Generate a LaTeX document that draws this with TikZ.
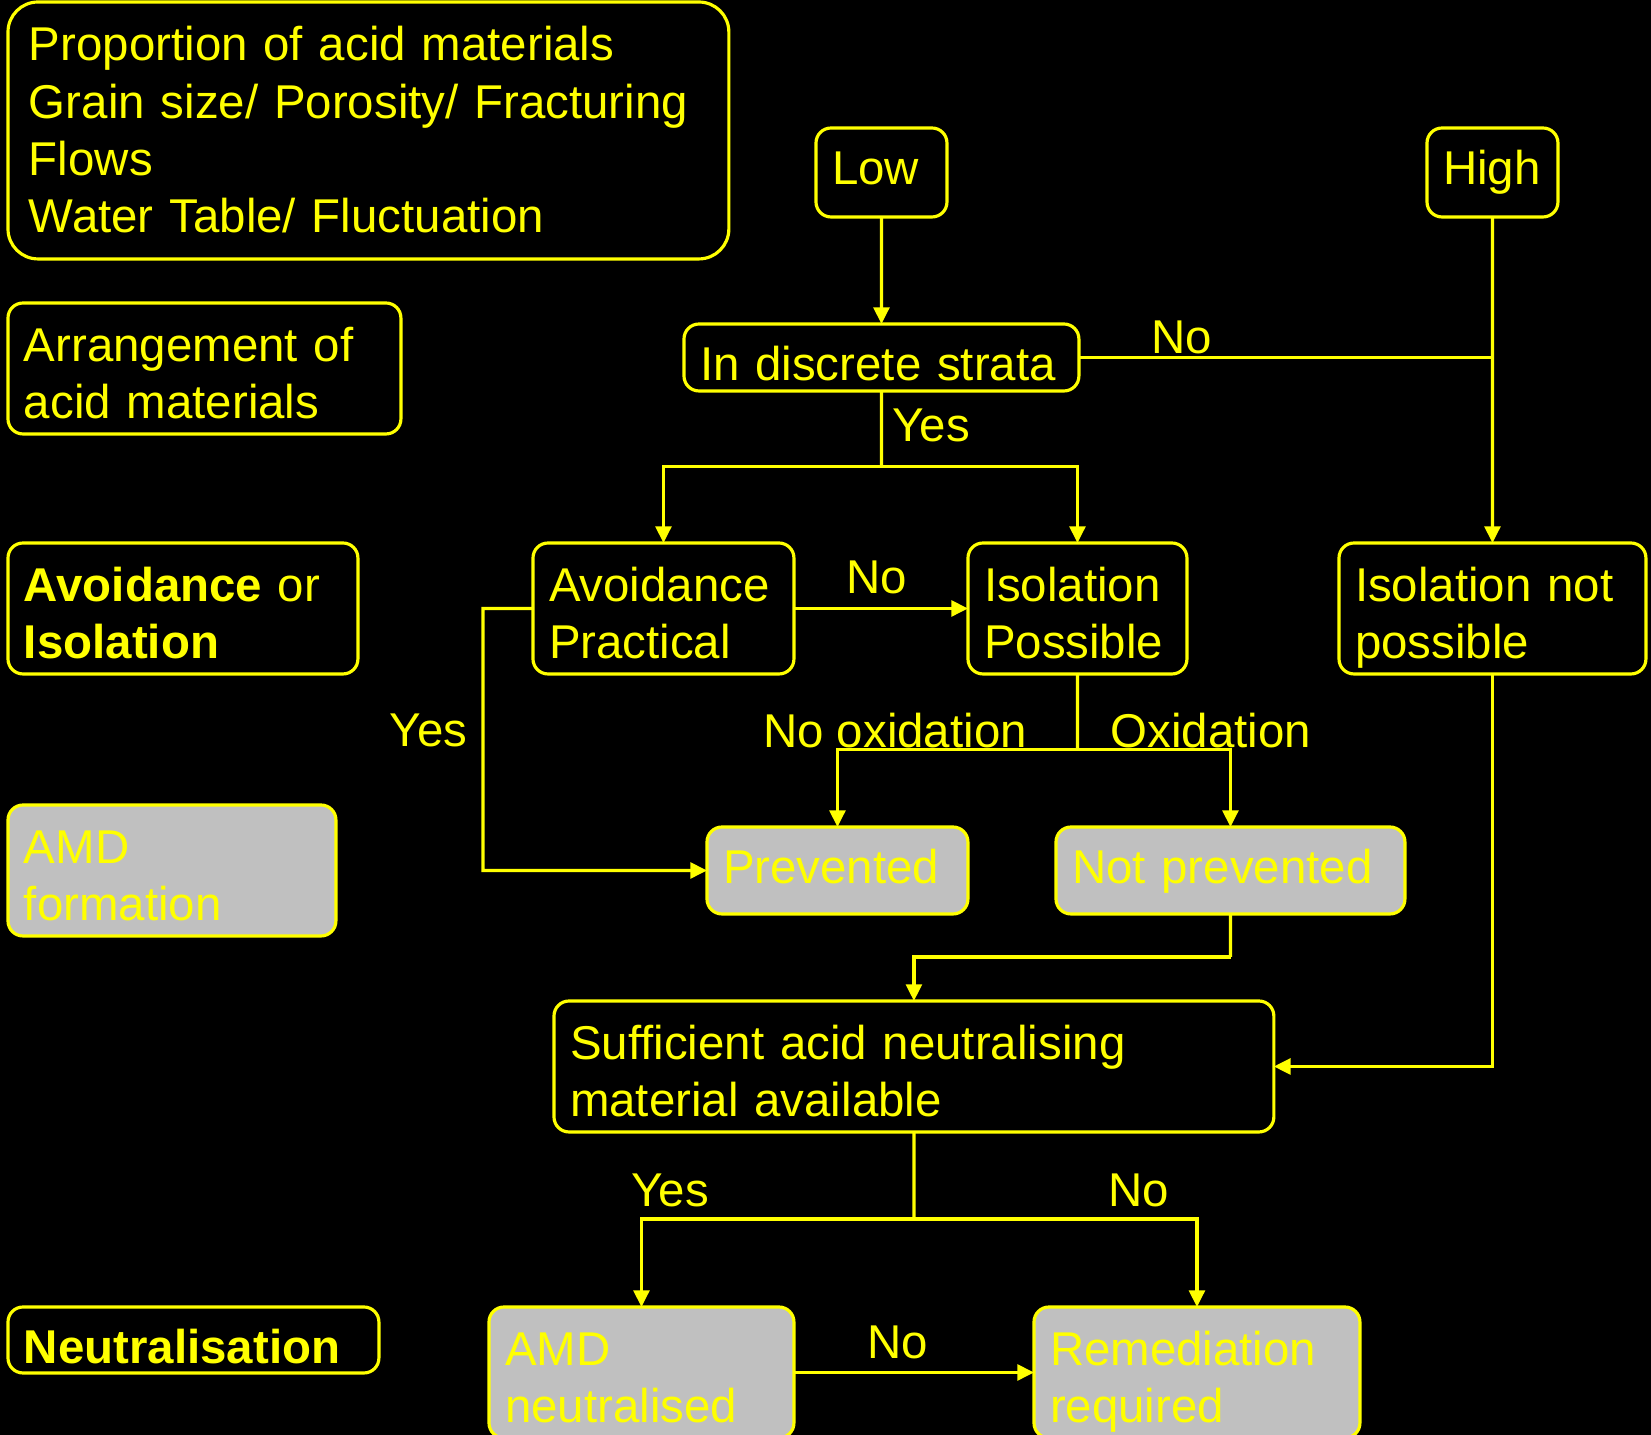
\documentclass[tikz,border=0pt]{standalone}
\usepackage{fontspec}
\setmainfont{Liberation Sans}
\usepackage{tikz}
\usetikzlibrary{arrows.meta}
\definecolor{amdyellow}{HTML}{FFFF00}
\definecolor{amdgrey}{HTML}{C0C0C0}

\begin{document}
\begin{tikzpicture}[x=0.02cm, y=-0.02cm, font=\fontsize{27}{32.5}\selectfont]
	\useasboundingbox (0,0) rectangle (1651,1435);
	\fill[black] (0,0) rectangle (1651,1435);

	\begin{scope}[every node/.style={draw=amdyellow, text=amdyellow, line width=1.8pt, anchor=north west, outer sep=0pt,
	              rounded corners=0.3cm, align=left, inner xsep=0.32cm, inner ysep=0pt, text height=1.13cm},
	              twoline/.style={text height=1.17cm, text depth=1.45cm}]
		% legend column
		\node[text width=13.58cm, text height=1.18cm, text depth=3.96cm, inner xsep=0.42cm, rounded corners=0.6cm] (props) at (8,2)
			{Proportion of acid materials\\Grain size/ Porosity/ Fracturing\\Flows\\Water Table/ Fluctuation};
		\node[text width=7.22cm, twoline] (arrange) at (8,303) {Arrangement of\\acid materials};
		\node[text width=6.36cm, twoline] (avoidlbl) at (8,543) {\textbf{Avoidance} or\\\textbf{Isolation}};
		\node[text width=5.92cm, twoline, fill=amdgrey] (amdform) at (8,805) {AMD\\formation};
		\node[text width=6.78cm, text depth=0.19cm] (neutlbl) at (8,1307) {\textbf{Neutralisation}};

		% flow chart
		\node[text width=1.98cm, text depth=0.65cm] (low) at (816,128) {Low};
		\node[text width=1.98cm, text depth=0.65cm] (high) at (1427,128) {High};
		\node[text width=7.26cm, text depth=0.21cm] (strata) at (684,324) {In discrete strata};
		\node[text width=4.58cm, twoline] (avoid) at (533,543) {Avoidance\\Practical};
		\node[text width=3.74cm, twoline] (isopos) at (968,543) {Isolation\\Possible};
		\node[text width=5.50cm, twoline] (isonot) at (1339,543) {Isolation not\\possible};
		\node[text width=4.58cm, text depth=0.61cm, fill=amdgrey] (prev) at (707,827) {Prevented};
		\node[text width=6.34cm, text depth=0.61cm, fill=amdgrey] (notprev) at (1056,827) {Not prevented};
		\node[text width=13.76cm, twoline] (suff) at (554,1001) {Sufficient acid neutralising\\material available};
		\node[text width=5.46cm, twoline, fill=amdgrey] (amdneut) at (489,1307) {AMD\\neutralised};
		\node[text width=5.88cm, twoline, fill=amdgrey] (remed) at (1034,1307) {Remediation\\required};
	\end{scope}

	\begin{scope}[>={Triangle[length=9.5pt,width=9pt]}, line width=1.9pt, color=amdyellow,
	              every node/.style={text=amdyellow, anchor=base, inner sep=0pt}]
		\coordinate (s1) at (881.5,466.5);
		\coordinate (yb) at (483,608.5);
		\coordinate (s2) at (1077.5,749.7);
		\coordinate (s3) at (1230.5,957);
		\coordinate (s4) at (914,1219);

		\draw[->] (low) -- (strata);
		\draw[->] (high) -- (isonot);
		\draw (strata) -- (strata -| high);
		\draw (strata) -- (s1);
		\draw[->] (s1) -| (avoid);
		\draw[->] (s1) -| (isopos);
		\draw[->] (avoid) -- (isopos);
		\draw[->] (avoid) -- (yb) |- (prev);
		\draw (isopos) -- (s2);
		\draw[->] (s2) -| (prev);
		\draw[->] (s2) -| (notprev);
		\draw (notprev) -- (s3);
		\draw[->] (s3) -| (suff);
		\draw[->] (isonot) |- (suff);
		\draw (suff) -- (s4);
		\draw[->] (s4) -| (amdneut);
		\draw[->] (s4) -| (remed);
		\draw[->] (amdneut) -- (remed);

		\node (lno1) at (1182,354) {No};
		\node (lyes1) at (931,442) {Yes};
		\node (lno2) at (877,594) {No};
		\node (lyes2) at (428.5,747) {Yes};
		\node (lnoox) at (895,748) {No oxidation};
		\node (lox) at (1211,748) {Oxidation};
		\node (lyes3) at (670,1206) {Yes};
		\node (lno3) at (1139,1206) {No};
		\node (lno4) at (898,1358) {No};
	\end{scope}
\end{tikzpicture}
\end{document}
